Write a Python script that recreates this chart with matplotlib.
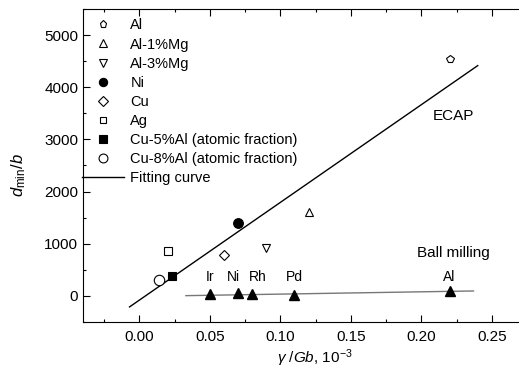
import numpy as np
import matplotlib.pyplot as plt
from matplotlib.ticker import MultipleLocator

plt.rcParams['font.family'] = ['Liberation Sans', 'DejaVu Sans']
plt.rcParams['mathtext.fontset'] = 'custom'
plt.rcParams['mathtext.rm'] = 'Liberation Sans'
plt.rcParams['mathtext.it'] = 'Liberation Sans:italic'

# ECAP data (gamma/Gb x 1e-3, d_min/b)
ecap_names = ['Al', 'Al-1%Mg', 'Al-3%Mg', 'Ni', 'Cu', 'Ag',
              'Cu-5%Al (atomic fraction)', 'Cu-8%Al (atomic fraction)']
ecap_x = [0.22, 0.12, 0.09, 0.07, 0.06, 0.02, 0.023, 0.014]
ecap_y = [4550, 1600, 925, 1400, 790, 870, 385, 310]
ecap_markers = ['p', '^', 'v', 'o', 'D', 's', 's', 'o']
ecap_filled = [False, False, False, True, False, False, True, False]
ecap_sizes = [6, 6, 6, 7, 5.5, 5.5, 6, 7.5]

# fitting line for ECAP
fit_x = [-0.007, 0.24]
fit_slope = 18730
fit_icpt = -80

# ball milling
bm_names = ['Ir', 'Ni', 'Rh', 'Pd', 'Al']
bm_x = [0.05, 0.07, 0.08, 0.11, 0.22]
bm_y = [30, 50, 30, 25, 100]
bm_label_x = [0.05, 0.067, 0.084, 0.11, 0.22]
bm_fit_x = [0.033, 0.237]
bm_fit_y = [5, 95]

fig = plt.figure(figsize=(5.19, 3.69), dpi=100)
ax = fig.add_axes([83 / 519, 1 - 322 / 369, 1 - 83 / 519 + 0.002, (322 - 9) / 369])

fx = np.array(fit_x)
fit_line, = ax.plot(fx, fit_slope * fx + fit_icpt, color='black', lw=1.0, zorder=2)
ax.plot(bm_fit_x, bm_fit_y, color='#777777', lw=1.0, zorder=2)

handles = []
for name, x, y, m, f, s in zip(ecap_names, ecap_x, ecap_y, ecap_markers, ecap_filled, ecap_sizes):
    h, = ax.plot([x], [y], linestyle='none', marker=m, ms=s, mew=0.8,
                 mec='black', mfc='black' if f else 'white', zorder=3)
    handles.append(h)

ax.plot(bm_x, bm_y, linestyle='none', marker='^', ms=7, color='black', zorder=3)
for name, x in zip(bm_names, bm_label_x):
    ax.text(x, 370, name, ha='center', va='center', fontsize=10)

ax.text(0.223, 3450, 'ECAP', ha='center', va='center', fontsize=11)
ax.text(0.223, 820, 'Ball milling', ha='center', va='center', fontsize=11)

leg = ax.legend(handles + [fit_line], ecap_names + ['Fitting curve'],
                loc='upper left', bbox_to_anchor=(-0.025, 1.0), frameon=False,
                fontsize=10.5, handlelength=2.9, handletextpad=0.45,
                labelspacing=0.35, borderaxespad=0.25, markerscale=0.85)

ax.set_xlim(-0.04, 0.27)
ax.set_ylim(-500, 5500)
ax.xaxis.set_minor_locator(MultipleLocator(0.025))
ax.yaxis.set_minor_locator(MultipleLocator(500))
ax.set_xticks([0.0, 0.05, 0.10, 0.15, 0.20, 0.25])
ax.set_xticklabels(['0.00', '0.05', '0.10', '0.15', '0.20', '0.25'])
ax.set_yticks([0, 1000, 2000, 3000, 4000, 5000])
ax.tick_params(which='both', direction='in', top=True, right=False, labelsize=11)
ax.tick_params(which='major', length=5, width=0.8)
ax.tick_params(axis='x', which='major', pad=6)
ax.tick_params(which='minor', length=2.5, width=0.8)
ax.spines['right'].set_visible(False)

ax.set_xlabel(r'$\gamma$ /$Gb$, 10$^{-3}$', fontsize=11)
ax.xaxis.set_label_coords(0.53, -0.08)
ax.set_ylabel(r'$d_{\rm min}/b$', fontsize=12)
ax.yaxis.set_label_coords(-0.125, 0.47)

fig.savefig('out.png', dpi=100)
